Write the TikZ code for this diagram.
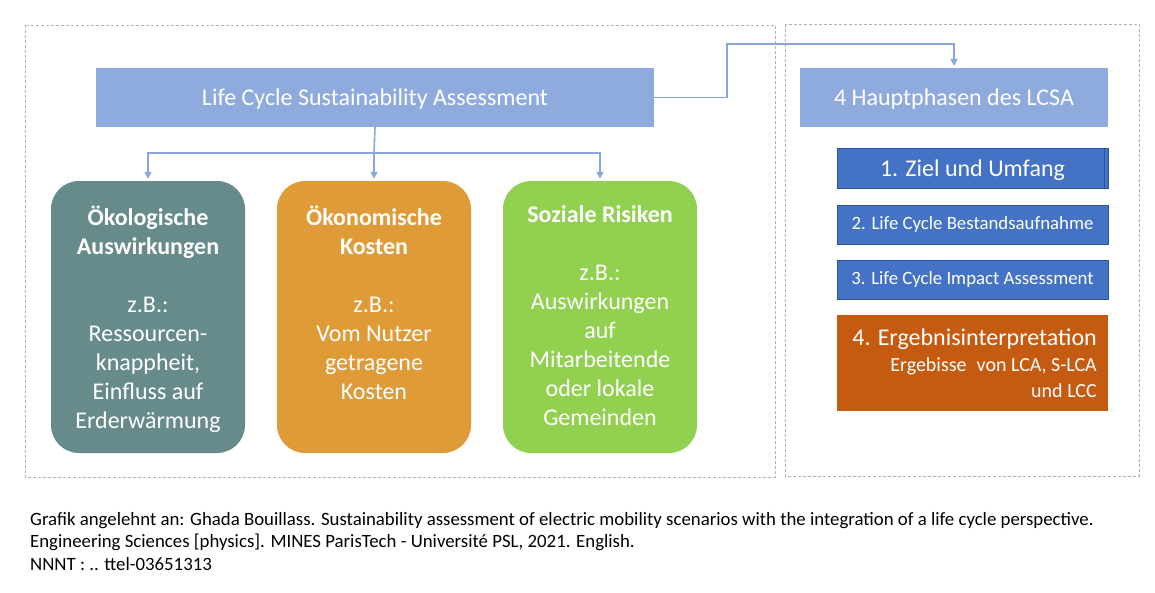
\documentclass[tikz,border=0pt]{standalone}
\usepackage{fontspec}
\setmainfont{Carlito}
\usepackage{tikz}
\usetikzlibrary{arrows.meta,positioning,calc}

\definecolor{hellblau}{HTML}{8FAADC}
\definecolor{linie}{HTML}{8AA6DA}
\definecolor{rahmen}{HTML}{A8B6C2}
\definecolor{oekgruen}{HTML}{678B8A}
\definecolor{oekorange}{HTML}{E09B39}
\definecolor{sozgruen}{HTML}{92D050}
\definecolor{phasenblau}{HTML}{4472C4}
\definecolor{phasenrand}{HTML}{2F5597}
\definecolor{phasenorange}{HTML}{C55A11}

\tikzset{
  frame/.style={draw=rahmen, line width=0.8pt, dash pattern=on 3pt off 2pt},
  headbox/.style={fill=hellblau, text=white, minimum height=59pt, inner sep=0pt,
    text height=19pt, text depth=3pt, font=\fontsize{24}{29}\selectfont},
  pillar/.style={rounded corners=28pt, minimum width=194pt, minimum height=272pt, inner sep=0pt},
  pillartext/.style={text=white, align=center, inner sep=0pt, font=\fontsize{24}{29}\selectfont},
  phase/.style={fill=phasenblau, draw=phasenrand, line width=0.8pt, text=white,
    minimum width=271pt, inner sep=0pt},
  link/.style={draw=linie, line width=1.6pt, -{Triangle[length=7pt,width=7pt]}, shorten >=2pt},
  line/.style={draw=linie, line width=1.6pt}
}

\begin{document}
\begin{tikzpicture}[x=1pt,y=-1pt]
\useasboundingbox (0,0) rectangle (1155,592);
\fill[white] (0,0) rectangle (1155,592);

% Rahmen
\draw[frame] (25,25) rectangle (775,477);
\draw[frame] (785,24) rectangle (1139,476);

% Kopf
\node[headbox, minimum width=558pt] (lcsa) at (375,97.5) {Life Cycle Sustainability Assessment};
\node[headbox, minimum width=308pt] (haupt) at (954,97.5) {4 Hauptphasen des LCSA};

% Saeulen
\node[pillar, fill=oekgruen] (oek) at (148,317) {};
\node[pillar, fill=oekorange] (oekon) at (374,317) {};
\node[pillar, fill=sozgruen] (soz) at (600,317) {};

\node[pillartext, below=25pt of oek.north] (oektext) {\textbf{Ökologische}\\\textbf{Auswirkungen}\\ \\z.B.:\\Ressourcen-\\knappheit,\\Einfluss auf\\Erderwärmung};
\node[pillartext, below=25pt of oekon.north] (oekontext) {\textbf{Ökonomische}\\\textbf{Kosten}\\ \\z.B.:\\Vom Nutzer\\getragene\\Kosten};
\node[pillartext, below=25pt of soz.north] (soztext) {\textbf{Soziale Risiken}\\ \\z.B.:\\Auswirkungen\\auf\\Mitarbeitende\\oder lokale\\Gemeinden};

% Phasen
\node[phase, minimum height=40pt, text height=19pt, text depth=3pt, font=\fontsize{24}{29}\selectfont] (ziel) at (972.5,168) {1. Ziel und Umfang};
\draw[phasenrand, line width=0.8pt] ($(ziel.north east)+(-4,0)$) -- ($(ziel.south east)+(-4,0)$);
\node[phase, minimum height=39pt, font=\fontsize{18.8}{22}\selectfont] (bestand) at (972.5,224.5) {2. Life Cycle Bestandsaufnahme};
\node[phase, minimum height=39pt, font=\fontsize{18.8}{22}\selectfont] (impact) at (972.5,279.5) {3. Life Cycle Impact Assessment};
\node[fill=phasenorange, minimum width=271pt, minimum height=96pt, inner sep=0pt] (ergebnis) at (972.5,363) {};
\node[text=white, align=right, inner sep=0pt, anchor=north east, font=\fontsize{20}{26}\selectfont]
  (ergebnistext) at (1097,329) {{\fontsize{24}{26}\selectfont 4. Ergebnisinterpretation}\\Ergebisse\hspace{0.5em}von LCA, S-LCA\\und LCC};

% Verbindungen
\coordinate (knick) at (727,44);
\coordinate (split) at (374,153);
\draw[link] (lcsa.east) -| (knick) -| (haupt.north);
\draw[line] (lcsa.south) -- (split);
\draw[link] (split) -| (oek.north);
\draw[link] (split) -- (oekon.north);
\draw[link] (split) -| (soz.north);

% Quelle
\node[anchor=north west, align=left, inner sep=0pt, font=\fontsize{18.8}{22.5}\selectfont] (quelle) at (30,512)
  {Grafik angelehnt an: Ghada Bouillass. Sustainability assessment of electric mobility scenarios with the integration of a life cycle perspective.\\
   Engineering Sciences [physics]. MINES ParisTech - Université PSL, 2021. English.\\
   NNNT : .. ttel-03651313};
\end{tikzpicture}
\end{document}
